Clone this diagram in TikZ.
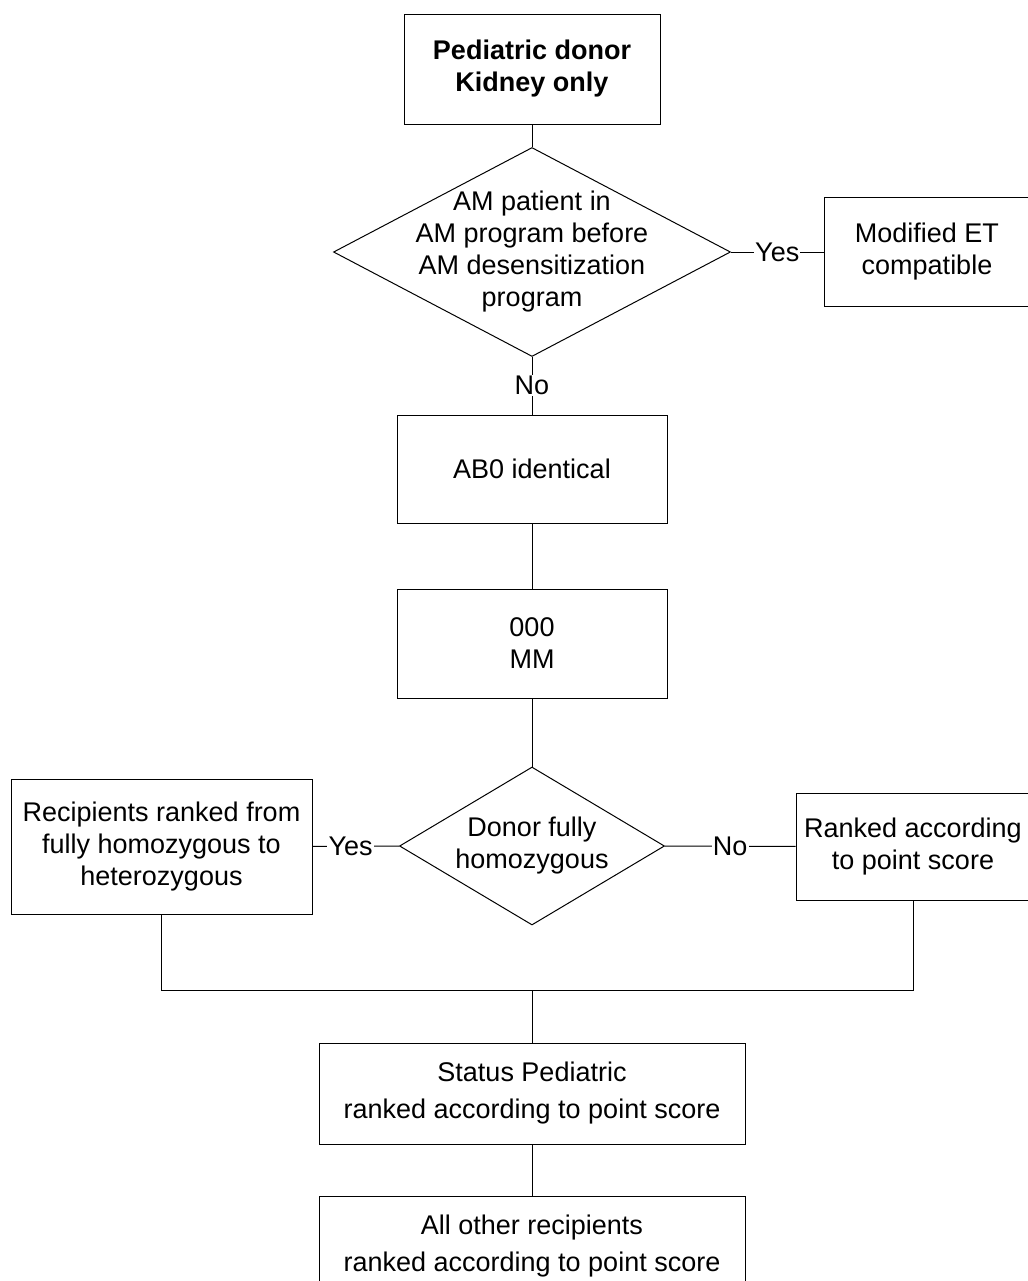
\documentclass[tikz,border=0pt]{standalone}
\usepackage{fontspec}
\setmainfont{Liberation Sans}
\usetikzlibrary{shapes.geometric}

\begin{document}
\begin{tikzpicture}[
  x=0.5pt, y=-0.5pt, line width=0.5pt,
  every node/.style={font=\fontsize{13.5}{16}\selectfont, align=center},
  box/.style={draw, inner sep=0pt},
  decision/.style={draw, diamond, inner sep=0pt},
  answer/.style={fill=white, inner sep=0.6pt},
  ]
  \useasboundingbox (0,0) rectangle (1028,1281);

  \node [box, minimum width=128pt, minimum height=55pt,
         font=\bfseries\fontsize{13.5}{16}\selectfont] (donor) at (532,69)
        {Pediatric donor\\Kidney only};
  \node [decision, minimum width=198.5pt, minimum height=104.5pt] (amprog) at (532,252) {};
  \node at (amprog) {AM patient in\\AM program before\\AM desensitization\\program};
  \node [box, minimum width=103pt, minimum height=54.5pt] (modet) at (927,252)
        {Modified ET\\compatible};
  \node [box, minimum width=135pt, minimum height=54pt] (abo) at (532,469) {AB0 identical};
  \node [box, minimum width=135pt, minimum height=54.5pt] (mm) at (532,643.5) {000\\MM};
  \node [decision, minimum width=132.5pt, minimum height=79pt] (homoz) at (532,846) {};
  \node at (homoz) {Donor fully\\homozygous};
  \node [box, minimum width=150.5pt, minimum height=67.5pt] (recip) at (161.5,846.5)
        {Recipients ranked from\\fully homozygous to\\heterozygous};
  \node [box, minimum width=117pt, minimum height=53.5pt] (ranked) at (913,846.5)
        {Ranked according\\to point score};
  \coordinate (merge) at (532,990);
  \node [box, minimum width=213pt, minimum height=50.5pt,
         font=\fontsize{13.5}{18.5}\selectfont] (status) at (532,1093.5)
        {Status Pediatric\\ranked according to point score};
  \node [box, minimum width=213pt, minimum height=50.5pt,
         font=\fontsize{13.5}{18.5}\selectfont] (others) at (532,1246.5)
        {All other recipients\\ranked according to point score};

  \draw (donor) -- (amprog);
  \draw (amprog) -- node [answer] {Yes} (modet);
  \draw (amprog) -- node [answer] {No} (abo);
  \draw (abo) -- (mm);
  \draw (mm) -- (homoz);
  \draw (homoz) -- node [answer, pos=0.56] {Yes} (recip);
  \draw (homoz) -- node [answer] {No} (ranked);
  \draw (recip.south) |- (merge) -| (ranked.south);
  \draw (merge) -- (status);
  \draw (status) -- (others);
\end{tikzpicture}
\end{document}
